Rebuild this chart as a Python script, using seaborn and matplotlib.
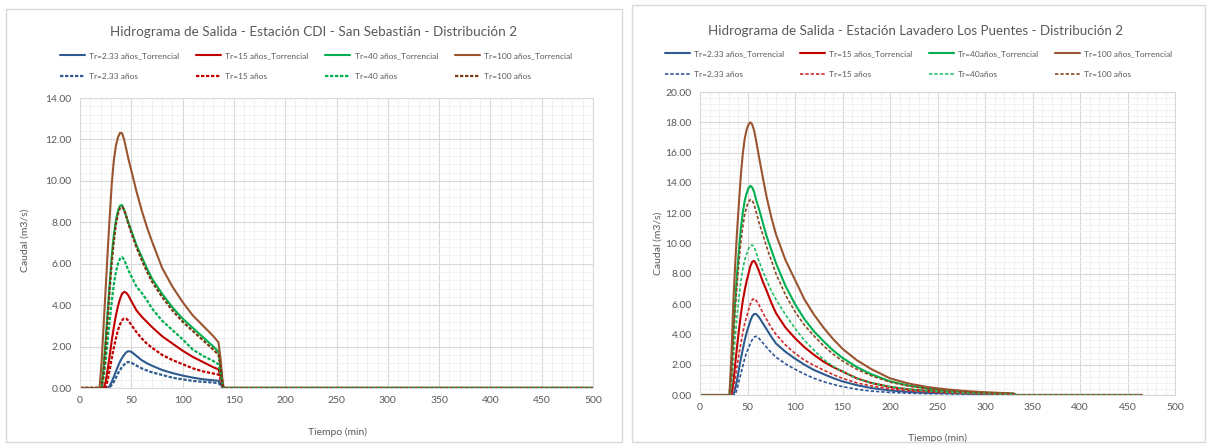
import matplotlib
matplotlib.use("Agg")
import matplotlib.pyplot as plt
import seaborn as sns
from matplotlib import font_manager
from matplotlib.patches import Rectangle
from matplotlib.ticker import AutoMinorLocator, MultipleLocator, FormatStrFormatter

sns.set_style("white")
names = {f.name for f in font_manager.fontManager.ttflist}
FONT = "Liberation Sans Narrow" if "Liberation Sans Narrow" in names else "Lato"
plt.rcParams["font.family"] = [FONT, "DejaVu Sans"]

# ---- Estacion CDI - San Sebastian (tiempo en min, caudal en m3/s)
t_cdi = [0, 19, 21, 23, 25, 27, 29, 31, 33, 35,
         37, 39, 41, 43, 45, 47, 50, 55, 60, 65,
         70, 80, 90, 100, 110, 120, 130, 135, 137, 139,
         140, 500]
cdi_233_t = [0, 0, 0, 0, 0, 0, 0.1, 0.3, 0.55, 0.8,
             1.05, 1.27, 1.45, 1.6, 1.72, 1.78, 1.75, 1.55, 1.35, 1.2,
             1.08, 0.87, 0.72, 0.6, 0.5, 0.42, 0.37, 0.35, 0.2, 0.03,
             0, 0]
cdi_15_t = [0, 0, 0, 0, 0.3, 0.9, 1.6, 2.3, 2.95, 3.5,
            3.95, 4.3, 4.55, 4.64, 4.6, 4.48, 4.2, 3.75, 3.45, 3.2,
            2.95, 2.5, 2.15, 1.8, 1.5, 1.25, 1.0, 0.9, 0.55, 0.1,
            0, 0]
cdi_40_t = [0, 0, 0, 1.0, 2.3, 3.7, 5.1, 6.4, 7.4, 8.1,
            8.55, 8.8, 8.83, 8.6, 8.3, 8.0, 7.6, 6.9, 6.35, 5.8,
            5.3, 4.55, 3.9, 3.35, 2.9, 2.45, 2.0, 1.75, 1.1, 0.2,
            0, 0]
cdi_100_t = [0, 0, 1.2, 3.0, 4.8, 6.6, 8.3, 9.9, 11.0, 11.7,
             12.1, 12.32, 12.3, 12.0, 11.55, 11.1, 10.5, 9.5, 8.6, 7.8,
             7.1, 5.8, 4.9, 4.15, 3.5, 3.0, 2.5, 2.2, 1.4, 0.3,
             0, 0]
cdi_233 = [0, 0, 0, 0, 0, 0, 0.05, 0.15, 0.3, 0.5,
           0.7, 0.87, 1.02, 1.13, 1.22, 1.26, 1.22, 1.08, 0.95, 0.85,
           0.76, 0.63, 0.5, 0.42, 0.34, 0.3, 0.26, 0.24, 0.14, 0.02,
           0, 0]
cdi_15 = [0, 0, 0, 0, 0, 0.4, 0.9, 1.45, 1.95, 2.4,
          2.8, 3.07, 3.27, 3.36, 3.35, 3.26, 3.05, 2.7, 2.4, 2.15,
          1.95, 1.6, 1.35, 1.15, 0.95, 0.8, 0.7, 0.65, 0.4, 0.05,
          0, 0]
cdi_40 = [0, 0, 0, 0.5, 1.3, 2.3, 3.3, 4.2, 5.0, 5.6,
          6.0, 6.25, 6.32, 6.2, 5.95, 5.7, 5.4, 4.9, 4.6, 4.25,
          3.85, 3.25, 2.8, 2.35, 1.85, 1.55, 1.3, 1.15, 0.7, 0.1,
          0, 0]
cdi_100 = [0, 0, 0, 0.8, 2.0, 3.4, 4.8, 6.1, 7.1, 7.9,
           8.4, 8.7, 8.75, 8.6, 8.3, 7.95, 7.5, 6.8, 6.2, 5.65,
           5.15, 4.4, 3.75, 3.2, 2.75, 2.3, 1.85, 1.6, 1.0, 0.2,
           0, 0]

# ---- Estacion Lavadero Los Puentes
t_lav = [0, 31, 33, 35, 37, 39, 41, 43, 45, 47,
         49, 51, 53, 55, 57, 59, 62, 66, 70, 75,
         80, 90, 100, 110, 120, 130, 140, 150, 165, 180,
         200, 220, 240, 260, 280, 300, 320, 330, 333, 465]
lav_233_t = [0, 0, 0, 0, 0.4, 1.0, 1.7, 2.4, 3.0, 3.6,
             4.1, 4.5, 4.9, 5.2, 5.35, 5.35, 5.15, 4.75, 4.35, 3.85,
             3.4, 2.85, 2.4, 2.0, 1.65, 1.38, 1.12, 0.9, 0.65, 0.46,
             0.3, 0.2, 0.14, 0.12, 0.09, 0.07, 0.05, 0.04, 0, 0]
lav_15_t = [0, 0, 0, 0.8, 2.0, 3.2, 4.3, 5.3, 6.2, 6.9,
            7.5, 8.0, 8.5, 8.8, 8.85, 8.65, 8.2, 7.5, 6.9, 6.1,
            5.4, 4.45, 3.75, 3.15, 2.65, 2.2, 1.85, 1.55, 1.1, 0.8,
            0.53, 0.37, 0.27, 0.2, 0.14, 0.1, 0.07, 0.06, 0, 0]
lav_40_t = [0, 0, 1.5, 4.0, 6.2, 8.0, 9.6, 11.0, 12.0, 12.8,
            13.3, 13.65, 13.8, 13.7, 13.4, 12.9, 12.3, 11.4, 10.5, 9.6,
            8.7, 7.2, 6.0, 5.0, 4.2, 3.55, 2.95, 2.45, 1.85, 1.38,
            0.9, 0.62, 0.42, 0.3, 0.21, 0.15, 0.11, 0.09, 0, 0]
lav_100_t = [0, 0, 2.5, 6.0, 8.6, 10.8, 12.7, 14.5, 15.9, 16.9,
             17.5, 17.85, 18.0, 17.85, 17.45, 16.8, 15.75, 14.4, 13.1, 11.75,
             10.6, 8.9, 7.6, 6.3, 5.3, 4.45, 3.7, 3.05, 2.3, 1.72,
             1.1, 0.75, 0.52, 0.37, 0.26, 0.18, 0.13, 0.1, 0, 0]
lav_233 = [0, 0, 0, 0, 0, 0.4, 0.9, 1.4, 1.9, 2.4,
           2.8, 3.1, 3.4, 3.65, 3.82, 3.88, 3.75, 3.45, 3.15, 2.8,
           2.5, 2.05, 1.7, 1.38, 1.1, 0.88, 0.7, 0.55, 0.38, 0.26,
           0.17, 0.12, 0.09, 0.08, 0.06, 0.05, 0.04, 0.03, 0, 0]
lav_15 = [0, 0, 0, 0.3, 1.1, 1.9, 2.7, 3.4, 4.1, 4.7,
          5.15, 5.6, 6.0, 6.28, 6.37, 6.25, 5.95, 5.45, 5.0, 4.45,
          4.0, 3.3, 2.75, 2.3, 1.95, 1.65, 1.35, 1.1, 0.8, 0.6,
          0.4, 0.28, 0.2, 0.15, 0.11, 0.08, 0.06, 0.05, 0, 0]
lav_40 = [0, 0, 0.5, 2.2, 3.8, 5.2, 6.4, 7.5, 8.3, 8.9,
          9.3, 9.65, 9.85, 9.9, 9.75, 9.4, 8.85, 8.2, 7.6, 6.9,
          6.3, 5.3, 4.4, 3.6, 2.95, 2.35, 1.9, 1.55, 1.1, 0.8,
          0.55, 0.38, 0.27, 0.2, 0.14, 0.1, 0.07, 0.06, 0, 0]
lav_100 = [0, 0, 1.2, 3.5, 5.5, 7.3, 8.8, 10.1, 11.1, 11.9,
           12.4, 12.75, 12.9, 12.85, 12.55, 12.1, 11.4, 10.6, 9.8, 8.9,
           8.0, 6.6, 5.5, 4.6, 3.9, 3.25, 2.7, 2.25, 1.7, 1.28,
           0.85, 0.58, 0.4, 0.28, 0.2, 0.14, 0.1, 0.08, 0, 0]

labels_cdi = ["Tr=2.33 años_Torrencial", "Tr=15 años_Torrencial", "Tr=40 años_Torrencial", "Tr=100 años_Torrencial",
              "Tr=2.33 años", "Tr=15 años", "Tr=40 años", "Tr=100 años"]
labels_lav = ["Tr=2.33 años_Torrencial", "Tr=15 años_Torrencial", "Tr=40años_Torrencial", "Tr=100 años_Torrencial",
              "Tr=2.33 años", "Tr=15 años", "Tr=40años", "Tr=100 años"]

colors = ["#2E5B8F", "#C00000", "#00B050", "#9A5530"]
colors_dash_cdi = ["#2E5B8F", "#C00000", "#00B050", "#7A3A12"]
colors_dash_lav = ["#2F5597", "#D22B2B", "#21C065", "#8B4A22"]
GRAY = "#595959"

W, H = 1210, 444
fig = plt.figure(figsize=(W / 100, H / 100), dpi=100)
fig.patch.set_facecolor("white")

# panel frames
for x0, y0, x1, y1 in [(6, 9, 622, 442), (632, 5, 1205, 442)]:
    fig.patches.append(Rectangle((x0 / W, 1 - y1 / H), (x1 - x0) / W, (y1 - y0) / H,
                                 transform=fig.transFigure, fill=False, edgecolor="#D9D9D9", lw=1))


def draw(box, t, solids, dashes, labels, dcolors, lw_d, dash_pat, ymax, title, title_xy, leg_box, xl, yl):
    x0, y0, x1, y1 = box
    ax = fig.add_axes([x0 / W, 1 - y1 / H, (x1 - x0) / W, (y1 - y0) / H])
    handles = []
    for vals, c in zip(solids, colors):
        sns.lineplot(x=t, y=vals, ax=ax, color=c, lw=1.5, estimator=None, sort=False)
        handles.append(ax.lines[-1])
    for vals, c in zip(dashes, dcolors):
        sns.lineplot(x=t, y=vals, ax=ax, color=c, lw=lw_d, linestyle=(0, dash_pat), estimator=None, sort=False)
        handles.append(ax.lines[-1])

    ax.set_xlim(0, 500)
    ax.set_ylim(0, ymax)
    ax.xaxis.set_major_locator(MultipleLocator(50))
    ax.yaxis.set_major_locator(MultipleLocator(2))
    ax.yaxis.set_major_formatter(FormatStrFormatter("%.2f"))
    ax.xaxis.set_minor_locator(AutoMinorLocator(5))
    ax.yaxis.set_minor_locator(AutoMinorLocator(5))
    ax.grid(which="major", color="#D9D9D9", lw=0.8)
    ax.grid(which="minor", color="#EFEFEF", lw=0.6)
    ax.set_axisbelow(True)
    for s in ax.spines.values():
        s.set_color("#D9D9D9")
        s.set_linewidth(0.8)
    ax.tick_params(which="both", length=0, labelsize=7.5, labelcolor=GRAY, pad=6)

    ax.set_xlabel("Tiempo (min)", fontsize=7.5, color=GRAY)
    ax.set_ylabel("Caudal (m3/s)", fontsize=7.5, color=GRAY)
    ax.xaxis.set_label_coords((xl[0] - x0) / (x1 - x0), (y1 - xl[1]) / (y1 - y0))
    ax.yaxis.set_label_coords((yl[0] - x0) / (x1 - x0), (y1 - yl[1]) / (y1 - y0))

    txt = fig.text(title_xy[0] / W, 1 - title_xy[1] / H, title, ha="center", va="center",
                   fontsize=11, color=GRAY)
    fig.canvas.draw()
    wpx = txt.get_window_extent().width
    txt.set_fontsize(11 * title_xy[2] / wpx)

    # Excel-like legend: solid row on top, dashed row below
    order = [0, 4, 1, 5, 2, 6, 3, 7]
    lx0, lx1, ly = leg_box
    leg = ax.legend([handles[i] for i in order], [labels[i] for i in order], ncol=4, mode="expand",
                    bbox_to_anchor=(lx0 / W, 1 - (ly + 14) / H, (lx1 - lx0) / W, 28 / H),
                    bbox_transform=fig.transFigure, loc="center", frameon=False, fontsize=6,
                    handlelength=3.0, handletextpad=0.5, labelspacing=1.7, borderaxespad=0, borderpad=0)
    for tx in leg.get_texts():
        tx.set_color(GRAY)
    return ax


draw((80, 98, 593, 388), t_cdi,
     [cdi_233_t, cdi_15_t, cdi_40_t, cdi_100_t], [cdi_233, cdi_15, cdi_40, cdi_100],
     labels_cdi, colors_dash_cdi, 1.6, (1.5, 0.75), 14,
     "Hidrograma de Salida - Estación CDI - San Sebastián - Distribución 2", (314, 32, 405),
     (60, 572, 66), (337, 427), (30, 240))

draw((700, 92, 1175, 395), t_lav,
     [lav_233_t, lav_15_t, lav_40_t, lav_100_t], [lav_233, lav_15, lav_40, lav_100],
     labels_lav, colors_dash_lav, 1.2, (2.0, 1.2), 20,
     "Hidrograma de Salida - Estación Lavadero Los Puentes - Distribución 2", (916, 31, 413),
     (665, 1172, 64), (938, 433), (663, 243))

fig.savefig("out.png", dpi=100, facecolor="white")
